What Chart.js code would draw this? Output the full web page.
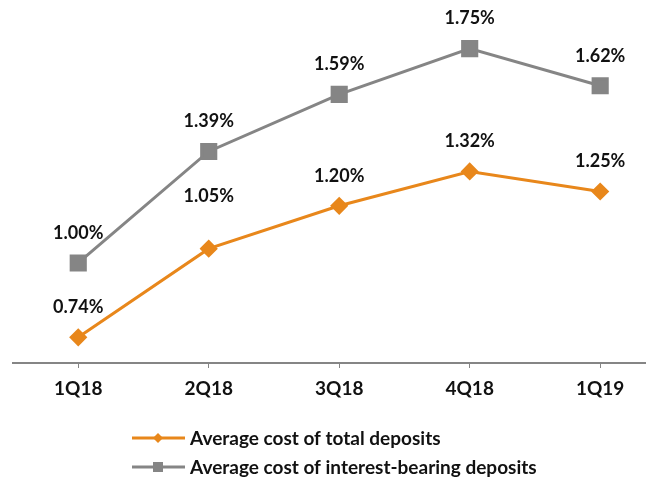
<!DOCTYPE html>
<html>
<head>
<meta charset="utf-8">
<script src="https://cdn.jsdelivr.net/npm/chart.js@4.4.1/dist/chart.umd.min.js"></script>
<style>
  html, body { margin: 0; padding: 0; background: #fff; }
  #wrap { width: 658px; height: 481px; }
</style>
</head>
<body>
<div id="wrap"><canvas id="cost-chart"></canvas></div>
<script>
const quarters = ['1Q18', '2Q18', '3Q18', '4Q18', '1Q19'];
const totalDeposits = [0.74, 1.05, 1.20, 1.32, 1.25];
const interestBearing = [1.00, 1.39, 1.59, 1.75, 1.62];

const FONT = 'Lato, "Open Sans", sans-serif';
const ORANGE = '#E8871B';
const GRAY = '#858585';

// value labels above the points
const pointLabels = {
  id: 'pointLabels',
  afterDatasetsDraw(chart, args, opts) {
    const ctx = chart.ctx;
    ctx.save();
    ctx.font = 'bold 18px ' + FONT;
    ctx.fillStyle = '#111';
    ctx.textAlign = 'center';
    ctx.textBaseline = 'middle';
    chart.data.datasets.forEach((ds, i) => {
      chart.getDatasetMeta(i).data.forEach((pt, j) => {
        const lift = (opts.lift[i] && opts.lift[i][j]) || 30;
        ctx.fillText(ds.data[j].y.toFixed(2) + '%', pt.x, pt.y - lift);
      });
    });
    ctx.restore();
  }
};

// legend stacked at the bottom, left aligned
const stackLegend = {
  id: 'stackLegend',
  afterDraw(chart) {
    const ctx = chart.ctx;
    ctx.save();
    chart.data.datasets.forEach((ds, i) => {
      const y = 438 + i * 29;
      ctx.strokeStyle = ds.borderColor;
      ctx.lineWidth = 3;
      ctx.beginPath();
      ctx.moveTo(132, y);
      ctx.lineTo(185, y);
      ctx.stroke();
      ctx.fillStyle = ds.borderColor;
      if (ds.pointStyle === 'rect') {
        ctx.fillRect(153, y - 5, 10, 10);
      } else {
        ctx.beginPath();
        ctx.moveTo(158, y - 5);
        ctx.lineTo(163, y);
        ctx.lineTo(158, y + 5);
        ctx.lineTo(153, y);
        ctx.closePath();
        ctx.fill();
      }
      ctx.fillStyle = '#111';
      ctx.font = 'bold 19px ' + FONT;
      ctx.textBaseline = 'middle';
      ctx.fillText(ds.label, 190, y + 1);
    });
    ctx.restore();
  }
};

new Chart(document.getElementById('cost-chart'), {
  type: 'line',
  data: {
    datasets: [
      {
        label: 'Average cost of total deposits',
        data: totalDeposits.map((v, i) => ({ x: i, y: v })),
        borderColor: ORANGE,
        backgroundColor: ORANGE,
        borderWidth: 3,
        pointStyle: 'rectRot',
        pointRadius: 7,
        pointHoverRadius: 7
      },
      {
        label: 'Average cost of interest-bearing deposits',
        data: interestBearing.map((v, i) => ({ x: i, y: v })),
        borderColor: GRAY,
        backgroundColor: GRAY,
        borderWidth: 3,
        pointStyle: 'rect',
        pointRadius: 10,
        pointHoverRadius: 10
      }
    ]
  },
  plugins: [pointLabels, stackLegend],
  options: {
    responsive: true,
    maintainAspectRatio: false,
    animation: false,
    layout: { padding: { left: 10, right: 0, top: 20, bottom: 0 } },
    plugins: {
      legend: { display: false },
      tooltip: { enabled: false },
      pointLabels: { lift: { 0: { 1: 52 } } }
    },
    scales: {
      x: {
        type: 'linear',
        min: -0.5,
        max: -0.5 + 634.5 / 131,
        afterBuildTicks: scale => {
          scale.ticks = quarters.map((q, i) => ({ value: i }));
        },
        afterFit: scale => { scale.height = 118; },
        grid: { drawOnChartArea: false, color: GRAY, tickLength: 5, lineWidth: 1 },
        border: { color: GRAY, width: 2 },
        ticks: {
          padding: 9,
          color: '#111',
          font: { family: FONT, size: 19, weight: 'bold' },
          callback: v => quarters[v]
        }
      },
      y: {
        display: false,
        min: 0.65,
        max: 1.85
      }
    }
  }
});
</script>
</body>
</html>
